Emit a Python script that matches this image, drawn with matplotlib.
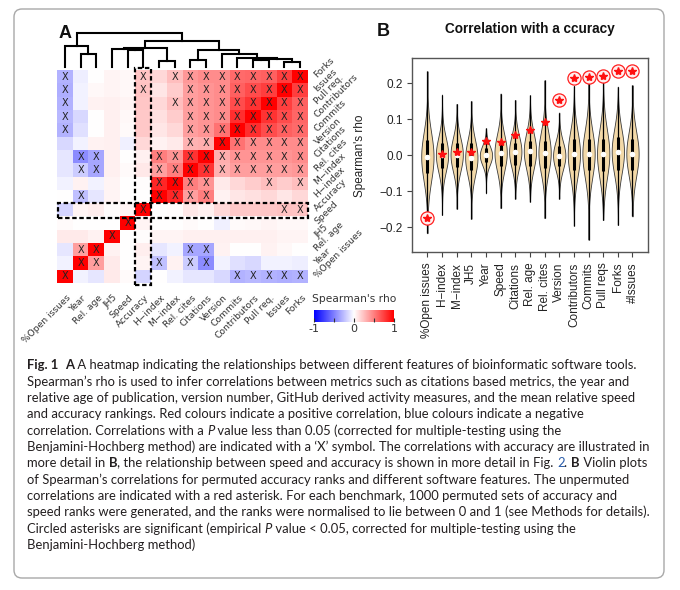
import re
import numpy as np
import matplotlib
matplotlib.use("Agg")
import matplotlib.pyplot as plt
from matplotlib.colors import LinearSegmentedColormap
from matplotlib.patches import Rectangle, FancyBboxPatch
from matplotlib.transforms import IdentityTransform

# ---------------- data: heatmap (panel A) ----------------
features = ["%Open issues", "Year", "Rel. age", "JH5", "Speed", "Accuracy",
            "H\u2212index", "M\u2212index", "Rel. cites", "Citations", "Version",
            "Commits", "Contributors", "Pull req.", "Issues", "Forks"]

# upper triangle of Spearman's rho: row i lists values for j = i+1 .. 15
rho_upper = [
    [-0.05, -0.10, 0.08, 0.02, -0.17, 0.00, -0.05, -0.10, -0.10, -0.15, -0.30, -0.28, -0.30, -0.32, -0.30],
    [0.38, 0.08, 0.00, 0.04, -0.25, 0.05, -0.20, -0.45, -0.05, -0.12, -0.15, -0.05, -0.05, -0.07],
    [0.05, 0.00, 0.07, -0.10, -0.05, -0.35, -0.35, 0.05, 0.00, 0.00, 0.05, 0.03, 0.00],
    [0.00, 0.01, 0.04, 0.04, 0.06, 0.06, 0.06, 0.06, 0.06, 0.06, 0.04, 0.04],
    [0.04, 0.00, 0.00, 0.02, 0.00, -0.06, 0.02, 0.03, 0.04, 0.03, 0.03],
    [0.005, 0.008, 0.093, 0.055, 0.155, 0.218, 0.213, 0.222, 0.235, 0.233],
    [0.85, 0.38, 0.50, 0.05, 0.10, 0.12, 0.15, 0.10, 0.15],
    [0.50, 0.42, 0.08, 0.15, 0.20, 0.25, 0.20, 0.25],
    [0.80, 0.30, 0.38, 0.38, 0.38, 0.38, 0.40],
    [0.32, 0.42, 0.42, 0.42, 0.42, 0.45],
    [0.55, 0.45, 0.45, 0.45, 0.45],
    [0.82, 0.70, 0.62, 0.58],
    [0.80, 0.70, 0.60],
    [0.75, 0.62],
    [0.75],
]

# significant pairs (marked with X); the diagonal is always marked
sig_pairs = [(0, 11), (0, 12), (0, 13), (0, 14), (0, 15),
             (1, 2), (1, 6), (1, 8), (1, 9), (2, 8), (2, 9),
             (5, 14), (5, 15),
             (6, 7), (6, 8), (6, 9), (7, 8), (7, 9), (7, 13), (7, 15),
             (8, 9), (8, 10), (8, 11), (8, 12), (8, 13), (8, 14), (8, 15),
             (9, 10), (9, 11), (9, 12), (9, 13), (9, 14), (9, 15),
             (10, 11), (10, 12), (10, 13), (10, 14), (10, 15),
             (11, 12), (11, 13), (11, 14), (11, 15),
             (12, 13), (12, 14), (12, 15), (13, 14), (13, 15), (14, 15)]

# column dendrogram merges (cluster ids: leaves 0-15, new clusters 16+)
merge_a = [14, 6, 8, 12, 19, 11, 10, 1, 18, 4, 3, 26, 0, 27, 28]
merge_b = [15, 7, 9, 13, 16, 20, 21, 2, 22, 5, 25, 17, 23, 24, 29]
merge_h = [5.0, 6.0, 6.7, 6.7, 7.4, 8.4, 12.4, 12.7, 16.7, 16.7, 17.5, 19.0, 20.7, 26.0, 34.0]

# ---------------- data: violins (panel B) ----------------
vio_labels = ["%Open issues", "H\u2212index", "M\u2212index", "JH5", "Year", "Speed",
              "Citations", "Rel. age", "Rel. cites", "Version", "Contributors",
              "Commits", "Pull reqs", "Forks", "#Issues"]
vio_min = [-0.217, -0.166, -0.149, -0.177, -0.106, -0.147, -0.121, -0.129,
           -0.175, -0.121, -0.196, -0.235, -0.180, -0.194, -0.170]
vio_max = [0.234, 0.169, 0.143, 0.151, 0.075, 0.172, 0.154, 0.167,
           0.209, 0.119, 0.193, 0.205, 0.206, 0.191, 0.195]
vio_median = [-0.004, 0.002, 0.002, -0.007, 0.000, 0.007, 0.010, 0.012,
              0.007, -0.001, 0.004, 0.004, 0.004, 0.010, 0.004]
vio_q1 = [-0.050, -0.035, -0.033, -0.040, -0.020, -0.030, -0.028, -0.030,
          -0.035, -0.030, -0.040, -0.040, -0.045, -0.040, -0.040]
vio_q3 = [0.042, 0.035, 0.033, 0.035, 0.020, 0.035, 0.035, 0.040,
          0.040, 0.025, 0.045, 0.045, 0.045, 0.050, 0.045]
vio_spread = [0.068, 0.048, 0.047, 0.050, 0.027, 0.050, 0.045, 0.050,
              0.057, 0.039, 0.062, 0.066, 0.068, 0.062, 0.062]
observed_rho = [-0.175, 0.005, 0.008, 0.010, 0.040, 0.038, 0.056, 0.070,
                0.093, 0.155, 0.214, 0.218, 0.221, 0.234, 0.236]
significant = [True, False, False, False, False, False, False, False,
               False, True, True, True, True, True, True]
y_ticks = [-0.2, -0.1, 0.0, 0.1, 0.2]

caption_lines = [
    "**Fig. 1**  **A** A heatmap indicating the relationships between different features of bioinformatic software tools.",
    "Spearman\u2019s rho is used to infer correlations between metrics such as citations based metrics, the year and",
    "relative age of publication, version number, GitHub derived activity measures, and the mean relative speed",
    "and accuracy rankings. Red colours indicate a positive correlation, blue colours indicate a negative",
    "correlation. Correlations with a _P_ value less than 0.05 (corrected for multiple-testing using the",
    "Benjamini-Hochberg method) are indicated with a \u2018X\u2019 symbol. The correlations with accuracy are illustrated in",
    "more detail in **B**, the relationship between speed and accuracy is shown in more detail in Fig. {2}. **B** Violin plots",
    "of Spearman\u2019s correlations for permuted accuracy ranks and different software features. The unpermuted",
    "correlations are indicated with a red asterisk. For each benchmark, 1000 permuted sets of accuracy and",
    "speed ranks were generated, and the ranks were normalised to lie between 0 and 1 (see Methods for details).",
    "Circled asterisks are significant (empirical _P_ value < 0.05, corrected for multiple-testing using the",
    "Benjamini-Hochberg method)",
]

# ---------------- figure ----------------
W, H = 680, 590
fig = plt.figure(figsize=(W / 100, H / 100), dpi=100)
fig.patch.set_facecolor("white")


def fx(px):
    return px / W


def fy(py):
    return 1 - py / H


LAB = "#333333"
cmap = LinearSegmentedColormap.from_list("bwr_r", ["#0000ff", "#ffffff", "#ff0000"])
n = len(features)

# heatmap
M = np.eye(n)
for i, row in enumerate(rho_upper):
    for k, v in enumerate(row):
        j = i + 1 + k
        M[i, j] = v
        M[j, i] = v
S = np.eye(n, dtype=bool)
for i, j in sig_pairs:
    S[i, j] = True
    S[j, i] = True

hx0, hx1, hy0, hy1 = 57, 308, 70, 283
axh = fig.add_axes([fx(hx0), fy(hy1), (hx1 - hx0) / W, (hy1 - hy0) / H])
axh.pcolormesh(np.arange(n + 1), np.arange(n + 1), M, cmap=cmap, vmin=-1, vmax=1)
for i in range(n):
    for j in range(n):
        if S[i, j]:
            axh.text(j + 0.5, i + 0.5, "X", ha="center", va="center",
                     fontsize=7, color="#222222", family="DejaVu Sans")
axh.set_xlim(0, n)
axh.set_ylim(0, n)
axh.axis("off")
for c, lab in enumerate(features):
    axh.text(c + 0.78, -1.0, lab, rotation=45, ha="right", va="center",
             rotation_mode="anchor", fontsize=6.6, color=LAB,
             family="DejaVu Sans", clip_on=False)
    axh.text(n + 0.5, c + 0.5, lab, rotation=45, ha="left", va="center",
             rotation_mode="anchor", fontsize=6.6, color=LAB,
             family="DejaVu Sans", clip_on=False)
dash = (0, (2.0, 1.2))
axh.add_patch(Rectangle((5, -0.15), 1, n + 0.3, fill=False, ec="k", lw=1.6,
                        ls=dash, clip_on=False, zorder=5))
axh.add_patch(Rectangle((0.05, 4.88), n - 0.05, 1.16, fill=False, ec="k", lw=1.6,
                        ls=dash, clip_on=False, zorder=5))

# dendrogram
dtop = 36.7
axd = fig.add_axes([fx(hx0), fy(66.7), (hx1 - hx0) / W, dtop / H])
axd.set_xlim(0, n)
axd.set_ylim(0, dtop)
axd.axis("off")
pos = {i: i + 0.5 for i in range(n)}
hgt = {i: 0.0 for i in range(n)}
for k, (a, b, h) in enumerate(zip(merge_a, merge_b, merge_h)):
    xa, xb = pos[a], pos[b]
    axd.plot([xa, xa, xb, xb], [hgt[a], h, h, hgt[b]], color="k", lw=1.5,
             solid_capstyle="projecting", solid_joinstyle="miter", clip_on=False)
    pos[n + k] = (xa + xb) / 2
    hgt[n + k] = h

# colour key
axc = fig.add_axes([fx(314), fy(322.3), 80 / W, 12.3 / H])
axc.imshow(np.linspace(-1, 1, 256)[None, :], aspect="auto", cmap=cmap,
           extent=[-1, 1, 0, 1], vmin=-1, vmax=1)
axc.set_yticks([])
axc.set_xticks([-1, 0, 1])
axc.set_xticklabels(["-1", "0", "1"], family="DejaVu Sans", fontsize=8, color=LAB)
axc.set_xticks([-0.5, 0.5], minor=True)
axc.tick_params(axis="x", which="both", direction="in", length=3, width=0.8,
                color="#333333", pad=1.5)
for sp in axc.spines.values():
    sp.set_visible(False)
fig.text(fx(354.5), fy(299), "Spearman's rho", ha="center", va="center",
         fontsize=7.7, color=LAB, family="DejaVu Sans")

# ---------------- panel B ----------------
RF = "Liberation Sans"
axv = fig.add_axes([fx(411.7), fy(252.3), 236.6 / W, 194 / H])
vpos = np.arange(1, len(vio_labels) + 1)
stats = []
for mn, mx, md, sd in zip(vio_min, vio_max, vio_median, vio_spread):
    coords = np.linspace(mn, mx, 300)
    vals = np.exp(-0.5 * ((coords - md) / sd) ** 2)
    stats.append(dict(coords=coords, vals=vals, mean=md, median=md, min=mn, max=mx))
parts = axv.violin(stats, positions=vpos, widths=0.84, showmeans=False,
                   showextrema=False, showmedians=False)
for b in parts["bodies"]:
    b.set_facecolor("#F3D9A8")
    b.set_edgecolor("#3a3a3a")
    b.set_linewidth(0.6)
    b.set_alpha(1)
axv.vlines(vpos, vio_min, vio_max, color="k", lw=0.9, zorder=2)
axv.vlines(vpos, vio_q1, vio_q3, color="k", lw=2.2, zorder=3)
axv.plot(vpos, vio_median, "o", color="white", ms=4, mec="none", zorder=4)
sig_x = [p for p, s in zip(vpos, significant) if s]
sig_y = [v for v, s in zip(observed_rho, significant) if s]
axv.plot(sig_x, sig_y, "o", ms=9.5, mfc="#fff0f0", mec="#ff2020", mew=0.9, zorder=5)
axv.plot(vpos, observed_rho, "*", ms=6, color="#ff1010", mec="#ff1010", zorder=6)
axv.set_xlim(-0.07, 16.08)
axv.set_ylim(-0.27, 0.27)
axv.set_yticks(y_ticks)
axv.set_yticklabels(["\u22120.2", "\u22120.1", "0.0", "0.1", "0.2"], family=RF,
                    fontsize=8.5, color="#222222")
axv.set_xticks(vpos)
axv.set_xticklabels(vio_labels, rotation=90, family=RF, fontsize=8.5, color="#222222")
axv.tick_params(axis="both", length=3.5, width=0.8, color="#444444", pad=3)
axv.tick_params(axis="x", pad=4)
for sp in axv.spines.values():
    sp.set_color("#555555")
    sp.set_linewidth(1.0)
axv.set_ylabel("Spearman's rho", family=RF, fontsize=8.5, color="#222222")
axv.yaxis.set_label_coords((366 - 411.7) / 236.6, 0.5)
fig.text(fx(530), fy(29), "Correlation with a ccuracy", ha="center", va="center",
         fontsize=9.8, fontweight="bold", family=RF, color="#111111")

fig.text(fx(65), fy(34), "A", ha="center", va="center", fontsize=13,
         fontweight="bold", family=RF, color="#111111")
fig.text(fx(383), fy(32), "B", ha="center", va="center", fontsize=13,
         fontweight="bold", family=RF, color="#111111")

# ---------------- caption ----------------
CAP_FONT = "Lato"
CAP_COLOR = "#231f20"
renderer = fig.canvas.get_renderer()


def parse(line):
    out = []
    for part in re.split(r"(\*\*.*?\*\*|_[^_ ]+_|\{[^}]*\})", line):
        if not part:
            continue
        if part.startswith("**"):
            out.append((part[2:-2], "b"))
        elif part.startswith("_") and part.endswith("_") and len(part) > 2:
            out.append((part[1:-1], "i"))
        elif part.startswith("{"):
            out.append((part[1:-1], "c"))
        else:
            out.append((part, "n"))
    return out


def props(style, size):
    d = dict(fontsize=size, family=CAP_FONT, color=CAP_COLOR)
    if style == "b":
        d["fontweight"] = "bold"
    if style == "i":
        d["fontstyle"] = "italic"
    if style == "c":
        d["color"] = "#2a5caa"
    return d


def text_w(s, style, size):
    t = fig.text(0, 0, s, transform=IdentityTransform(), **props(style, size))
    w = t.get_window_extent(renderer).width
    t.remove()
    return w


def advance(s, style, size):
    # advance width of s, measured between two reference glyphs
    return text_w("l" + s + "l", style, size) - text_w("ll", style, size)


ref_line = caption_lines[5]
cap_size = 10 * 624 / text_w(ref_line, "n", 10)


def draw_line(tokens, x0, ybase, size):
    x = x0
    for s, st in tokens:
        if not s:
            continue
        t = fig.text(x, ybase, s, transform=IdentityTransform(),
                     va="baseline", ha="left", **props(st, size))
        x += advance(s, st, size)


for k, line in enumerate(caption_lines):
    yc = 365 + k * 16.35
    draw_line(parse(line), 27, H - (yc + 4.3), cap_size)

# outer rounded frame
fig.add_artist(FancyBboxPatch((14, H - 578), 650, 569,
                              boxstyle="round,pad=0,rounding_size=8",
                              transform=IdentityTransform(), fill=False,
                              ec="#a8a8a8", lw=1.0))

fig.savefig("out.png", dpi=100, facecolor="white")
